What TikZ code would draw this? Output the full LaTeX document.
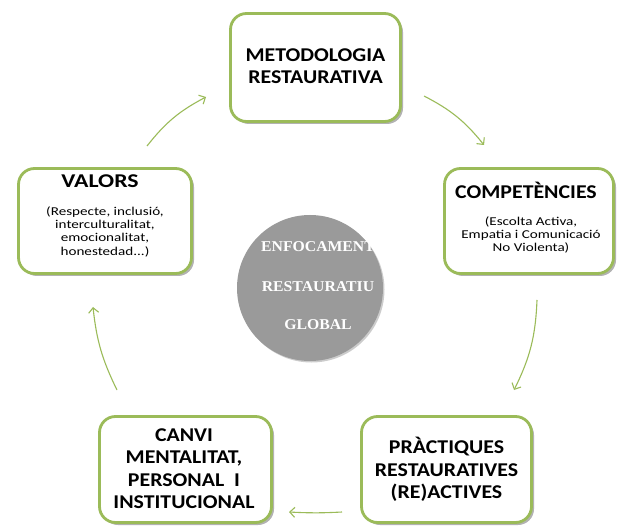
\documentclass[tikz,border=0pt]{standalone}
\usepackage{fontspec}
\setmainfont{Carlito}
\newfontfamily\hdfont[FakeStretch=1.12]{Carlito}
\newfontfamily\valfont[FakeStretch=1.22]{Carlito}
\newfontfamily\subfont[FakeStretch=1.26]{Carlito}
\newfontfamily\timesf[FakeStretch=1.05]{Liberation Serif}
\usetikzlibrary{shadows,arrows.meta}
\definecolor{lgreen}{HTML}{9BBB59}
\definecolor{cgray}{HTML}{9A9A9A}
\tikzset{
 box/.style={draw=lgreen, line width=2.8pt, rounded corners=16pt, fill=white, inner sep=0pt,
   drop shadow={shadow xshift=2.5pt, shadow yshift=-2.5pt, opacity=0.3, fill=black}},
 arr/.style={draw=lgreen, line width=1.1pt, -{Straight Barb[length=5pt,width=10pt]}},
 hd/.style={align=center, inner sep=0pt, font=\hdfont\fontsize{19.5}{22.5}\selectfont\bfseries},
 sub/.style={align=center, inner sep=0pt, font=\subfont\fontsize{12}{13.3}\selectfont},
 ctr/.style={align=center, inner sep=0pt, text=white, font=\timesf\fontsize{15}{15}\selectfont\bfseries}
}
\begin{document}
\begin{tikzpicture}[x=1pt,y=-1pt]
\useasboundingbox[fill=white] (0,0) rectangle (618,526);
% boxes
\node[box, minimum width=170pt, minimum height=108pt] (met) at (315.5,67.5) {};
\node[box, minimum width=173pt, minimum height=105pt] (val) at (105,221) {};
\node[box, minimum width=169pt, minimum height=105pt] (comp) at (529,221) {};
\node[box, minimum width=172pt, minimum height=106pt] (canvi) at (185.5,469.5) {};
\node[box, minimum width=170pt, minimum height=106pt] (prac) at (446.5,469.5) {};
% circle
\node[circle, fill=cgray, minimum size=146pt, inner sep=0pt,
  drop shadow={shadow xshift=1.5pt, shadow yshift=-1.5pt, opacity=0.2, fill=black}] (circ) at (310,288) {};
% texts
\node[hd] (metT) at (315.5,66) {METODOLOGIA\\RESTAURATIVA};
\node[hd, font=\valfont\fontsize{19.5}{22.5}\selectfont\bfseries] (valT) at (100,181) {VALORS};
\node[sub] (valS) at (105,231.5) {(Respecte, inclusió,\\interculturalitat,\\emocionalitat,\\honestedad...)};
\node[hd] (compT) at (526,190) {COMPETÈNCIES};
\node[sub] (compS) at (531,235) {(Escolta Activa,\\Empatia i Comunicació\\No Violenta)};
\node[hd] (canviT) at (184,468.5) {CANVI\\MENTALITAT,\\PERSONAL\ \ I\\INSTITUCIONAL};
\node[hd] (pracT) at (446.5,469.5) {PRÀCTIQUES\\RESTAURATIVES\\(RE)ACTIVES};
\node[ctr] (c1) at (318,247) {ENFOCAMENT};
\node[ctr] (c2) at (318,287) {RESTAURATIU};
\node[ctr] (c3) at (318,325) {GLOBAL};
% arrows
\coordinate (a1s) at (147,146); \coordinate (a1e) at (206,97);
\coordinate (a2s) at (424,96); \coordinate (a2e) at (484,145);
\coordinate (a3s) at (537,300); \coordinate (a3e) at (514,390);
\coordinate (a4s) at (342,512); \coordinate (a4e) at (289,512);
\coordinate (a5s) at (117,390); \coordinate (a5e) at (93,307);
\draw[arr] (a1s) to[bend left=12] (a1e);
\draw[arr] (a2s) to[bend left=12] (a2e);
\draw[arr] (a3s) to[bend left=12] (a3e);
\draw[arr] (a4s) to[bend left=3] (a4e);
\draw[arr] (a5s) to[bend left=10] (a5e);
\end{tikzpicture}
\end{document}
